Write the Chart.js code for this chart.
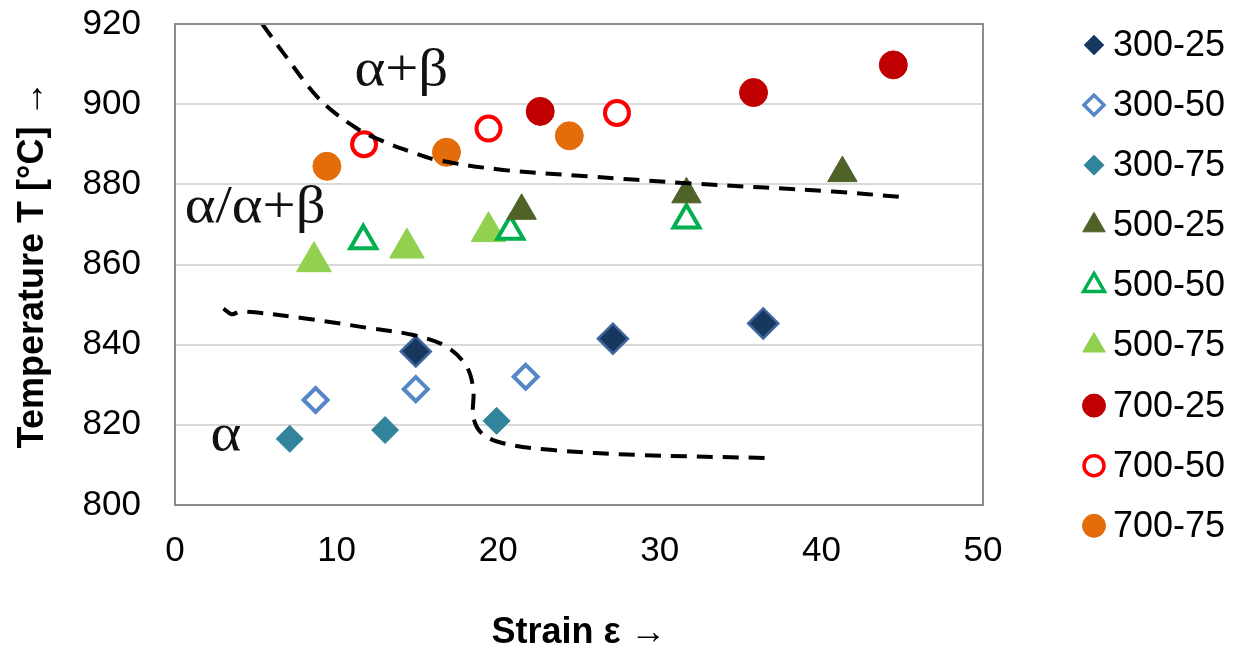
<!DOCTYPE html>
<html>
<head>
<meta charset="utf-8">
<script src="https://cdn.jsdelivr.net/npm/chart.js"></script>
<style>
  body { margin: 0; background: #fff; }
  #wrap { width: 1240px; height: 653px; }
</style>
</head>
<body>
<div id="wrap"><canvas id="grafico" width="1240" height="653"></canvas></div>
<script>
// series: forging temperature - reduction
const seriesLabels = ['300-25', '300-50', '300-75', '500-25', '500-50', '500-75', '700-25', '700-50', '700-75'];

// strain (x) and temperature (y) per series
const strain300_25 = [14.9, 27.1, 36.4];
const temp300_25   = [838.3, 841.5, 845.3];
const strain300_50 = [8.7, 14.9, 21.7];
const temp300_50   = [826.2, 828.9, 832.0];
const strain300_75 = [7.1, 13.0, 19.9];
const temp300_75   = [816.5, 818.7, 821.0];
const strain500_25 = [21.45, 31.65, 41.3];
const temp500_25   = [873.4, 877.5, 882.8];
const strain500_50 = [11.65, 20.75, 31.65];
const temp500_50   = [865.9, 868.3, 871.1];
const strain500_75 = [8.6, 14.35, 19.4];
const temp500_75   = [860.7, 864.1, 868.2];
const strain700_25 = [22.6, 35.8, 44.45];
const temp700_25   = [898.2, 902.9, 909.8];
const strain700_50 = [11.7, 19.4, 27.35];
const temp700_50   = [890.0, 893.9, 897.8];
const strain700_75 = [9.4, 16.8, 24.4];
const temp700_75   = [884.5, 888.0, 892.1];

// phase boundaries (dashed)
const upperX = [5.4, 6.7, 8.97, 11.24, 12.9, 14.54, 16.19, 20.3, 25.5, 31.66, 40.7, 45.07];
const upperY = [920, 912.8, 901.1, 894.0, 890.7, 888.2, 886.1, 883.6, 882.0, 880.3, 878.2, 876.8];
const lowerX = [3.0, 3.5, 4.1, 7.94, 12.07, 14.75, 16.81, 18.05, 18.46, 18.46, 18.98, 20.3, 23.4, 28.6, 37.0];
const lowerY = [849.0, 847.6, 848.3, 846.6, 844.1, 842.4, 839.5, 834.5, 828.7, 822.0, 817.9, 815.4, 813.7, 812.5, 811.7];

// phase field labels
const phaseLabels = ['α+β', 'α/α+β', 'α'];
const phaseX = [11.1, 0.6, 2.2];
const phaseY = [904.8, 870.6, 813.7];

const xTicks = [0, 10, 20, 30, 40, 50];
const yTicks = [800, 820, 840, 860, 880, 900, 920];

function pontos(xs, ys) {
  return xs.map(function (x, i) { return {x: x, y: ys[i]}; });
}

function serie(label, xs, ys, estilo) {
  return Object.assign({
    label: label,
    data: pontos(xs, ys),
    showLine: false
  }, estilo);
}

const datasets = [
  serie(seriesLabels[0], strain300_25, temp300_25, {pointStyle: 'rectRot', pointRadius: 15, backgroundColor: '#17375e', borderColor: '#3d679c', borderWidth: 2.5, legendRadius: 10}),
  serie(seriesLabels[1], strain300_50, temp300_50, {pointStyle: 'rectRot', pointRadius: 12, backgroundColor: '#ffffff', borderColor: '#5587c6', borderWidth: 4, legendRadius: 10, legendBorder: 3.5}),
  serie(seriesLabels[2], strain300_75, temp300_75, {pointStyle: 'rectRot', pointRadius: 13.5, backgroundColor: '#31849b', borderColor: '#31849b', borderWidth: 1, legendRadius: 10}),
  serie(seriesLabels[3], strain500_25, temp500_25, {pointStyle: 'triangle', pointRadius: 17, backgroundColor: '#4f6228', borderColor: '#4f6228', borderWidth: 1, legendRadius: 13}),
  serie(seriesLabels[4], strain500_50, temp500_50, {pointStyle: 'triangle', pointRadius: 15, backgroundColor: '#ffffff', borderColor: '#00b050', borderWidth: 4, legendRadius: 12, legendBorder: 3.5}),
  serie(seriesLabels[5], strain500_75, temp500_75, {pointStyle: 'triangle', pointRadius: 20, backgroundColor: '#92d050', borderColor: '#92d050', borderWidth: 1, legendRadius: 13}),
  serie(seriesLabels[6], strain700_25, temp700_25, {pointStyle: 'circle', pointRadius: 14, backgroundColor: '#c00000', borderColor: '#c00000', borderWidth: 1, legendRadius: 11.5}),
  serie(seriesLabels[7], strain700_50, temp700_50, {pointStyle: 'circle', pointRadius: 12, backgroundColor: '#ffffff', borderColor: '#ff0000', borderWidth: 4, legendRadius: 10, legendBorder: 3.5}),
  serie(seriesLabels[8], strain700_75, temp700_75, {pointStyle: 'circle', pointRadius: 14, backgroundColor: '#e46c0a', borderColor: '#e46c0a', borderWidth: 1, legendRadius: 11.5}),
  // dashed boundaries, drawn over the markers
  {data: pontos(upperX, upperY), showLine: true, pointRadius: 0, borderColor: '#000', borderWidth: 4, borderDash: [16, 10], tension: 0.35, order: -1},
  {data: pontos(lowerX, lowerY), showLine: true, pointRadius: 0, borderColor: '#000', borderWidth: 4, borderDash: [16, 10], tension: 0.35, order: -1}
];

// box around the plot area + phase labels
const molduraPlugin = {
  id: 'moldura',
  afterDatasetsDraw(chart) {
    const ctx = chart.ctx;
    const a = chart.chartArea;
    const sx = chart.scales.x, sy = chart.scales.y;
    ctx.save();
    ctx.strokeStyle = '#8c8c8c';
    ctx.lineWidth = 2;
    ctx.strokeRect(a.left, a.top, a.right - a.left, a.bottom - a.top);
    ctx.fillStyle = '#111';
    ctx.font = '52px "Liberation Serif", "Times New Roman", serif';
    ctx.textAlign = 'left';
    ctx.textBaseline = 'alphabetic';
    phaseLabels.forEach(function (t, i) {
      ctx.save();
      ctx.translate(sx.getPixelForValue(phaseX[i]), sy.getPixelForValue(phaseY[i]));
      ctx.scale(1.13, 1);
      ctx.fillText(t, 0, 0);
      ctx.restore();
    });
    ctx.restore();
  }
};

// legend on the right, one marker size per style
const legendaPlugin = {
  id: 'legenda',
  afterDraw(chart) {
    const ctx = chart.ctx;
    const a = chart.chartArea;
    let y = a.top + 21;
    ctx.save();
    chart.data.datasets.forEach(function (ds) {
      if (!ds.label) return;
      ctx.fillStyle = ds.backgroundColor;
      ctx.strokeStyle = ds.borderColor;
      ctx.lineWidth = ds.legendBorder || 1;
      Chart.helpers.drawPoint(ctx, {pointStyle: ds.pointStyle, radius: ds.legendRadius, rotation: 0, borderWidth: ds.legendBorder || 1}, 1094, y);
      ctx.fillStyle = '#000';
      ctx.font = '36px "Liberation Sans", Arial, sans-serif';
      ctx.textAlign = 'left';
      ctx.textBaseline = 'middle';
      ctx.fillText(ds.label, 1113, y + 1);
      y += 60.1;
    });
    ctx.restore();
  }
};

const ctx = document.getElementById('grafico').getContext('2d');
new Chart(ctx, {
  type: 'scatter',
  data: {datasets: datasets},
  options: {
    responsive: false,
    animation: false,
    layout: {padding: {top: 24, right: 257, bottom: 0, left: 0}},
    plugins: {legend: {display: false}, tooltip: {enabled: false}},
    scales: {
      x: {
        min: xTicks[0], max: xTicks[xTicks.length - 1],
        afterBuildTicks: function (s) { s.ticks = xTicks.map(function (v) { return {value: v}; }); },
        afterFit: function (s) { s.height = 148; s.paddingLeft = 0; s.paddingRight = 0; },
        grid: {display: false, drawTicks: false},
        border: {display: false},
        ticks: {color: '#000', padding: 25, font: {family: '"Liberation Sans", Arial, sans-serif', size: 35}},
        title: {display: true, text: 'Strain ε →', color: '#000', padding: {top: 0, bottom: -2}, font: {family: '"Liberation Sans", Arial, sans-serif', size: 36, weight: 'bold'}}
      },
      y: {
        min: yTicks[0], max: yTicks[yTicks.length - 1],
        afterBuildTicks: function (s) { s.ticks = yTicks.map(function (v) { return {value: v}; }); },
        afterFit: function (s) { s.width = 175; s.paddingTop = 0; s.paddingBottom = 0; },
        grid: {color: '#d9d9d9', lineWidth: 2, drawTicks: false},
        border: {display: false},
        ticks: {color: '#000', padding: 34, font: {family: '"Liberation Sans", Arial, sans-serif', size: 35}},
        title: {display: true, text: 'Temperature T [°C] →', color: '#000', padding: {top: 11, bottom: 0}, font: {family: '"Liberation Sans", Arial, sans-serif', size: 36, weight: 'bold'}}
      }
    }
  },
  plugins: [molduraPlugin, legendaPlugin]
});
</script>
</body>
</html>
